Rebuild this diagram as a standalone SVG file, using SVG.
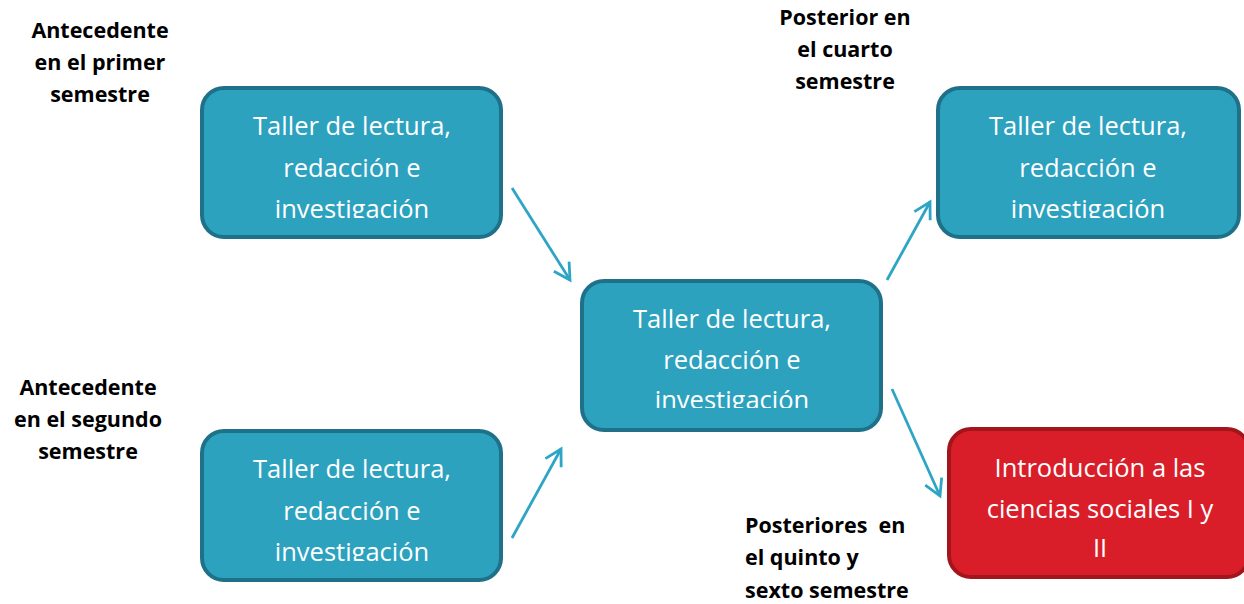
<svg xmlns="http://www.w3.org/2000/svg" width="1244" height="604" viewBox="0 0 1244 604">
<style>
.box{fill:#2ca2bf;stroke:#1f7189;stroke-width:4}
.red{fill:#d91e2a;stroke:#a3151d;stroke-width:4}
.bt{font-family:"Open Sans","Liberation Sans",sans-serif;font-size:25.5px;fill:#ffffff;text-anchor:middle}
.lb{font-family:"Open Sans","Liberation Sans",sans-serif;font-size:21.5px;font-weight:bold;fill:#000000}
.c{text-anchor:middle}
.conn line{stroke:#2ea5c5;stroke-width:2.8;fill:none;marker-end:url(#ah)}
</style>
<defs>
<marker id="ah" markerUnits="userSpaceOnUse" markerWidth="24" markerHeight="24" refX="18" refY="10" orient="auto" viewBox="0 0 24 20">
<path d="M2,1 L18,10 L2,19" fill="none" stroke="#2ea5c5" stroke-width="2.8" stroke-linejoin="miter"/>
</marker>
<clipPath id="c1"><rect x="200" y="85" width="305" height="133"/></clipPath>
<clipPath id="c2"><rect x="200" y="428" width="305" height="133"/></clipPath>
<clipPath id="c3"><rect x="580" y="278" width="305" height="130"/></clipPath>
<clipPath id="c4"><rect x="935" y="85" width="305" height="133"/></clipPath>
</defs>
<rect width="1244" height="604" fill="#ffffff"/>

<g id="label-antecedente-primer" class="lb c">
<text x="100" y="38">Antecedente</text>
<text x="100" y="70">en el primer</text>
<text x="100" y="102">semestre</text>
</g>
<g id="label-antecedente-segundo" class="lb c">
<text x="88" y="395">Antecedente</text>
<text x="88" y="427">en el segundo</text>
<text x="88" y="459">semestre</text>
</g>
<g id="label-posterior-cuarto" class="lb c">
<text x="845" y="25">Posterior en</text>
<text x="845" y="57">el cuarto</text>
<text x="845" y="89">semestre</text>
</g>
<g id="label-posteriores-quinto" class="lb">
<text x="745" y="533" xml:space="preserve">Posteriores  en</text>
<text x="745" y="565">el quinto y</text>
<text x="745" y="598">sexto semestre</text>
</g>

<g id="node-primer">
<rect class="box" x="202" y="88" width="299" height="149" rx="22"/>
<g clip-path="url(#c1)" class="bt">
<text x="352" y="135">Taller de lectura,</text>
<text x="352" y="177">redacción e</text>
<text x="352" y="218">investigación</text>
</g>
</g>
<g id="node-segundo">
<rect class="box" x="202" y="431" width="299" height="149" rx="22"/>
<g clip-path="url(#c2)" class="bt">
<text x="352" y="478">Taller de lectura,</text>
<text x="352" y="520">redacción e</text>
<text x="352" y="561">investigación</text>
</g>
</g>
<g id="node-centro">
<rect class="box" x="582" y="281" width="299" height="149" rx="22"/>
<g clip-path="url(#c3)" class="bt">
<text x="732" y="328">Taller de lectura,</text>
<text x="732" y="369">redacción e</text>
<text x="732" y="409">investigación</text>
</g>
</g>
<g id="node-cuarto">
<rect class="box" x="938" y="88" width="301" height="149" rx="22"/>
<g clip-path="url(#c4)" class="bt">
<text x="1088" y="135">Taller de lectura,</text>
<text x="1088" y="177">redacción e</text>
<text x="1088" y="218">investigación</text>
</g>
</g>
<g id="node-ciencias">
<rect class="red" x="949" y="429" width="300" height="148" rx="22"/>
<g class="bt">
<text x="1100" y="477">Introducción a las</text>
<text x="1100" y="518">ciencias sociales I y</text>
<text x="1100" y="557">II</text>
</g>
</g>

<g id="connectors" class="conn">
<line x1="512" y1="188" x2="570" y2="280"/>
<line x1="512" y1="538" x2="561" y2="449"/>
<line x1="887" y1="280" x2="930" y2="202"/>
<line x1="892" y1="389" x2="940" y2="496"/>
</g>
</svg>
